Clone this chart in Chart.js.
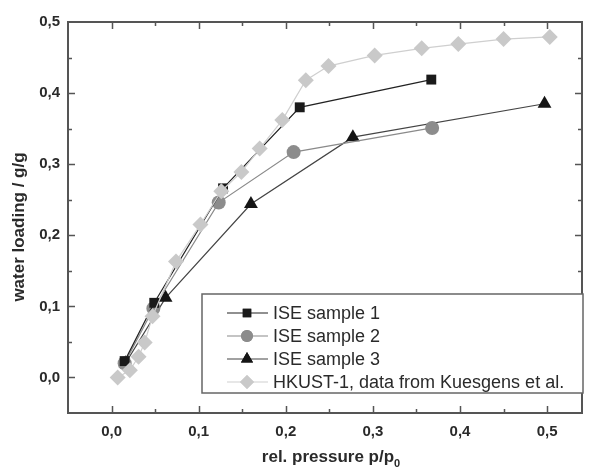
<!DOCTYPE html>
<html>
<head>
<meta charset="utf-8">
<script src="https://cdn.jsdelivr.net/npm/chart.js@4.4.1/dist/chart.umd.min.js"></script>
<style>
  html, body { margin:0; padding:0; background:#fff; }
  #wrap { width:590px; height:470px; position:relative; }
</style>
</head>
<body>
<div id="wrap"><canvas id="isoChart"></canvas></div>
<script>
const S1_X = [0.015, 0.049, 0.128, 0.216, 0.367];
const S1_Y = [0.023, 0.105, 0.266, 0.380, 0.419];
const S2_X = [0.015, 0.048, 0.123, 0.209, 0.368];
const S2_Y = [0.020, 0.097, 0.246, 0.317, 0.351];
const S3_X = [0.016, 0.062, 0.160, 0.277, 0.497];
const S3_Y = [0.020, 0.112, 0.244, 0.338, 0.385];
const HK_X = [0.007, 0.021, 0.031, 0.038, 0.047, 0.074, 0.102, 0.126, 0.149, 0.170, 0.196, 0.223, 0.249, 0.302, 0.356, 0.398, 0.450, 0.503];
const HK_Y = [0.000, 0.010, 0.029, 0.049, 0.086, 0.163, 0.215, 0.262, 0.289, 0.322, 0.362, 0.418, 0.438, 0.453, 0.463, 0.469, 0.476, 0.479];
const LABELS = ['ISE sample 1', 'ISE sample 2', 'ISE sample 3', 'HKUST-1, data from Kuesgens et al.'];
const TICKS = [-0.05, 0, 0.05, 0.1, 0.15, 0.2, 0.25, 0.3, 0.35, 0.4, 0.45, 0.5];

const pts = (xs, ys) => xs.map((x, i) => ({ x, y: ys[i] }));
const axisC = '#555';
const txtC = '#2a2a2a';
const FONT = '"Liberation Sans", Arial, sans-serif';
const isMult = (v, s) => Math.abs(v / s - Math.round(v / s)) < 1e-6;
const fmt = v => (isMult(v, 0.1) && v > -0.01) ? v.toFixed(1).replace('.', ',') : '';

const SERIES = [
  { line:'#222', fill:'#1a1a1a', style:'rect', r:7 },
  { line:'#8a8a8a', fill:'#8c8c8c', style:'circle', r:7 },
  { line:'#444', fill:'#151515', style:'triangle', r:8 },
  { line:'#cfcfcf', fill:'#c9c9c9', style:'rectRot', r:8 }
];

const frame = {
  id: 'frame',
  afterDraw(chart) {
    const { ctx, chartArea: a, scales } = chart;
    ctx.save();
    ctx.strokeStyle = axisC;
    ctx.lineWidth = 2;
    ctx.strokeRect(a.left, a.top, a.right - a.left, a.bottom - a.top);
    ctx.lineWidth = 1.5;
    scales.x.ticks.forEach(t => {
      if (t.value < -0.049) return;
      const px = Math.round(scales.x.getPixelForValue(t.value)) + 0.5;
      const len = isMult(t.value, 0.1) ? 7 : 4;
      ctx.beginPath();
      ctx.moveTo(px, a.bottom); ctx.lineTo(px, a.bottom - len);
      ctx.moveTo(px, a.top); ctx.lineTo(px, a.top + len);
      ctx.stroke();
    });
    scales.y.ticks.forEach(t => {
      if (t.value < -0.049 || t.value > 0.499) return;
      const py = Math.round(scales.y.getPixelForValue(t.value)) + 0.5;
      const len = isMult(t.value, 0.1) ? 7 : 4;
      ctx.beginPath();
      ctx.moveTo(a.left, py); ctx.lineTo(a.left + len, py);
      ctx.moveTo(a.right, py); ctx.lineTo(a.right - len, py);
      ctx.stroke();
    });

    // axis titles
    ctx.fillStyle = txtC;
    ctx.font = 'bold 17px ' + FONT;
    ctx.textBaseline = 'middle';
    ctx.textAlign = 'center';
    ctx.save();
    ctx.translate(19, 227);
    ctx.rotate(-Math.PI / 2);
    ctx.fillText('water loading / g/g', 0, 0);
    ctx.restore();
    const main = 'rel. pressure p/p';
    const w = ctx.measureText(main).width;
    ctx.font = 'bold 11px ' + FONT;
    const w0 = ctx.measureText('0').width;
    const cx = 331;
    const x0 = cx - (w + w0) / 2;
    ctx.textAlign = 'left';
    ctx.font = 'bold 17px ' + FONT;
    ctx.fillText(main, x0, 457);
    ctx.font = 'bold 11px ' + FONT;
    ctx.fillText('0', x0 + w, 464);

    // legend
    const lx = 202, ly = 294, lw = 381, lh = 99;
    ctx.fillStyle = '#fff';
    ctx.fillRect(lx, ly, lw, lh);
    ctx.strokeStyle = '#666';
    ctx.lineWidth = 1.5;
    ctx.strokeRect(lx, ly, lw, lh);
    ctx.font = '18px ' + FONT;
    ctx.textBaseline = 'middle';
    LABELS.forEach((lab, i) => {
      const s = SERIES[i];
      const y = 313 + i * 23;
      ctx.strokeStyle = s.line;
      ctx.lineWidth = 1.2;
      ctx.beginPath(); ctx.moveTo(227, y); ctx.lineTo(268, y); ctx.stroke();
      ctx.fillStyle = s.fill;
      Chart.helpers.drawPoint(ctx, { pointStyle: s.style, radius: s.r - 1, borderWidth: 0, rotation: 0 }, 247, y);
      ctx.fill();
      ctx.fillStyle = txtC;
      ctx.fillText(lab, 273, y + 1);
    });
    ctx.restore();
  }
};

const mk = (i, xs, ys) => ({
  label: LABELS[i], data: pts(xs, ys), showLine: true,
  borderColor: SERIES[i].line, borderWidth: 1.2,
  pointStyle: SERIES[i].style, pointRadius: SERIES[i].r, pointHoverRadius: SERIES[i].r,
  pointBackgroundColor: SERIES[i].fill, pointBorderColor: SERIES[i].fill, pointBorderWidth: 0,
  order: i === 3 ? 0 : i + 1
});

const setTicks = s => { s.ticks = TICKS.map(v => ({ value: v })); };

new Chart(document.getElementById('isoChart'), {
  type: 'scatter',
  data: { datasets: [
    mk(0, S1_X, S1_Y), mk(1, S2_X, S2_Y), mk(2, S3_X, S3_Y), mk(3, HK_X, HK_Y)
  ]},
  options: {
    responsive: true, maintainAspectRatio: false, animation: false,
    layout: { padding: { top: 22, right: 2, left: 0, bottom: 0 } },
    plugins: { legend: { display: false }, tooltip: { enabled: false } },
    scales: {
      x: {
        type: 'linear', min: -0.05, max: 0.54,
        afterBuildTicks: setTicks,
        afterFit: s => { s.height = 57; },
        grid: { display: false, drawTicks: false }, border: { display: false },
        ticks: { autoSkip: false, maxRotation: 0, padding: 10, color: txtC,
          font: { family: FONT, size: 15, weight: 'bold' },
          callback: v => fmt(v) }
      },
      y: {
        type: 'linear', min: -0.05, max: 0.5,
        afterBuildTicks: setTicks,
        afterFit: s => { s.width = 68; },
        grid: { display: false, drawTicks: false }, border: { display: false },
        ticks: { autoSkip: false, padding: 8, color: txtC,
          font: { family: FONT, size: 15, weight: 'bold' },
          callback: v => fmt(v) }
      }
    }
  },
  plugins: [frame]
});
</script>
</body>
</html>
